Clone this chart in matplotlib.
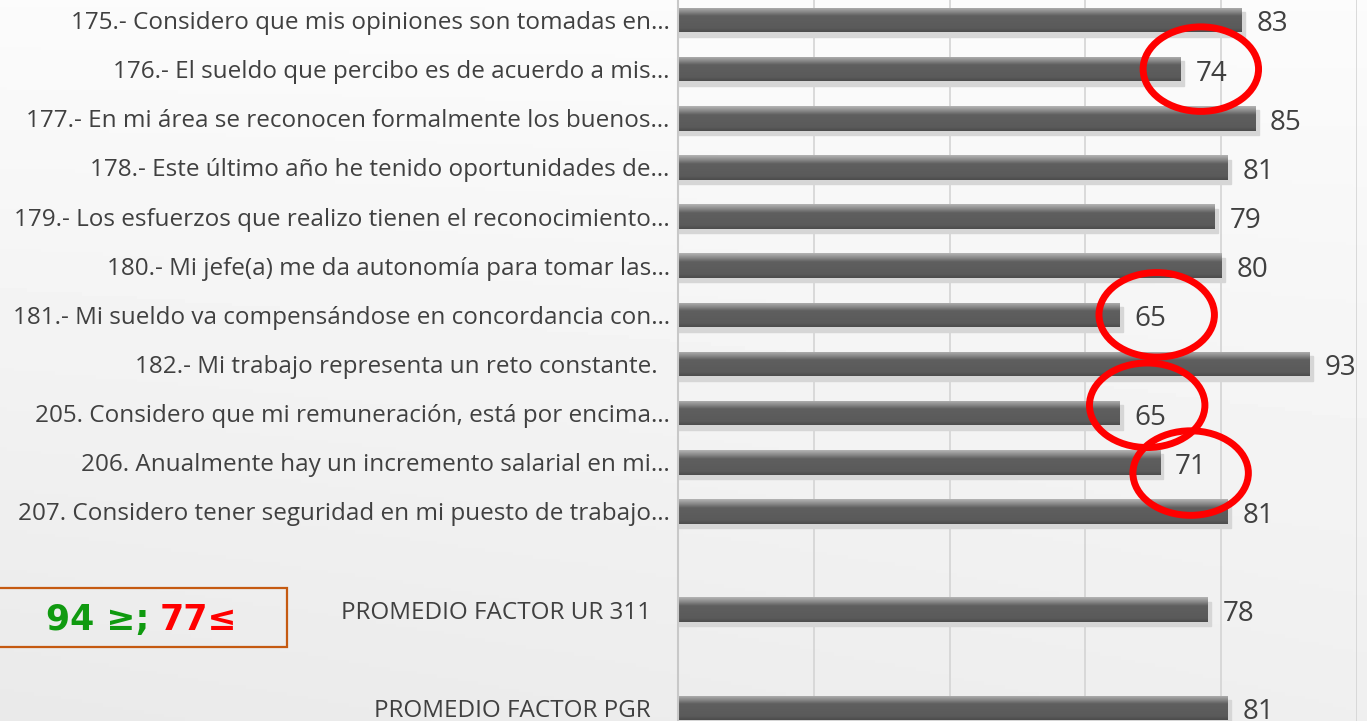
import numpy as np
import matplotlib.pyplot as plt
from matplotlib.colors import LinearSegmentedColormap
from matplotlib.patches import Rectangle, Ellipse

labels = [
    "175.- Considero que mis opiniones son tomadas en…",
    "176.- El sueldo que percibo es de acuerdo a mis…",
    "177.- En mi área se reconocen formalmente los buenos…",
    "178.- Este último año he tenido oportunidades de…",
    "179.- Los esfuerzos que realizo tienen el reconocimiento…",
    "180.- Mi jefe(a) me da autonomía para tomar las…",
    "181.- Mi sueldo va compensándose en concordancia con…",
    "182.- Mi trabajo representa un reto constante.  ",
    "205. Considero que mi remuneración, está por encima…",
    "206. Anualmente hay un incremento salarial en mi…",
    "207. Considero tener seguridad en mi puesto de trabajo…",
    "PROMEDIO FACTOR UR 311   ",
    "PROMEDIO FACTOR PGR   ",
]
values = [83, 74, 85, 81, 79, 80, 65, 93, 65, 71, 81, 78, 81]
slots = [0, 1, 2, 3, 4, 5, 6, 7, 8, 9, 10, 12, 14]
circled = [1, 6, 8, 9]

# hand-drawn circle placement (relative to the bar end)
circle_dx = [3.0, 5.5, 4.1, 4.5]
circle_dy = [0.0, 0.0, -0.16, 0.22]

W, H = 1367, 721
fig = plt.figure(figsize=(W / 100, H / 100), dpi=100)
plt.rcParams["font.family"] = ["Open Sans", "DejaVu Sans"]

# soft background
bg = fig.add_axes([0, 0, 1, 1], zorder=-5)
yy, xx = np.mgrid[0:1:200j, 0:1:200j]
shade = 0.985 - 0.07 * yy * (1 - 0.6 * xx) - 0.02 * xx * yy
bg.imshow(shade, cmap="gray", vmin=0, vmax=1, aspect="auto", extent=[0, 1, 0, 1], origin="upper")
bg.axis("off")

ax = fig.add_axes([678 / W, 0, (1357 - 678) / W, 1])
ax.set_facecolor("none")
top = -20 / 49.14
bottom = (H - 20) / 49.14
h = 0.5

cmap = LinearSegmentedColormap.from_list(
    "bar", [(0, "#b4b4b4"), (0.18, "#8a8a8a"), (0.35, "#5f5f5f"), (0.85, "#5a5a5a"), (1, "#4c4c4c")]
)
grad = np.linspace(0, 1, 64).reshape(-1, 1)

for v, s in zip(values, slots):
    ax.add_patch(Rectangle((0, s - h / 2 + 0.09), v + 0.5, h, color="#d6d6d6", zorder=1))
    rect = Rectangle((0, s - h / 2), v, h, facecolor="none", edgecolor="none", zorder=2)
    ax.add_patch(rect)
    im = ax.imshow(grad, cmap=cmap, aspect="auto", origin="upper",
                   extent=[0, v, s + h / 2, s - h / 2], zorder=2)
    im.set_clip_path(rect)
    ax.text(v + 2.2, s + 0.02, str(v), va="center_baseline", ha="left", fontsize=20,
            color="#404040", zorder=4)

for i, dx, dy in zip(circled, circle_dx, circle_dy):
    ax.add_patch(Ellipse((values[i] + dx, slots[i] + dy), 17, 1.72, fill=False,
                         edgecolor="#ff0000", lw=5, zorder=5, clip_on=False))

ax.set_xlim(0, 100)
ax.set_ylim(bottom, top)
ax.set_xticks([20, 40, 60, 80, 100])
ax.grid(axis="x", color="#d4d4d4", lw=1.2, zorder=0)
ax.set_axisbelow(True)
ax.set_yticks(slots)
ax.set_yticklabels(labels, fontsize=17.5, color="#404040")
ax.tick_params(axis="y", length=0, pad=6)
ax.tick_params(axis="x", length=0, labelbottom=False)
for side in ["top", "right", "bottom"]:
    ax.spines[side].set_visible(False)
ax.spines["left"].set_color("#c8c8c8")
ax.spines["left"].set_linewidth(1.5)

# legend box for thresholds
fig.patches.append(Rectangle((-0.01, (H - 647) / H), 0.01 + 287 / W, 59 / H,
                             transform=fig.transFigure, fill=False, edgecolor="#c55a11", lw=1.6))
ty = (H - 620) / H
fig.text(149 / W, ty, "94 ≥;", color="#109a10", fontsize=25, fontweight="bold",
         ha="right", va="center", family=["DejaVu Sans"])
fig.text(160 / W, ty, "77≤", color="#ff0000", fontsize=25, fontweight="bold",
         ha="left", va="center", family=["DejaVu Sans"])

fig.savefig("out.png", dpi=100)
